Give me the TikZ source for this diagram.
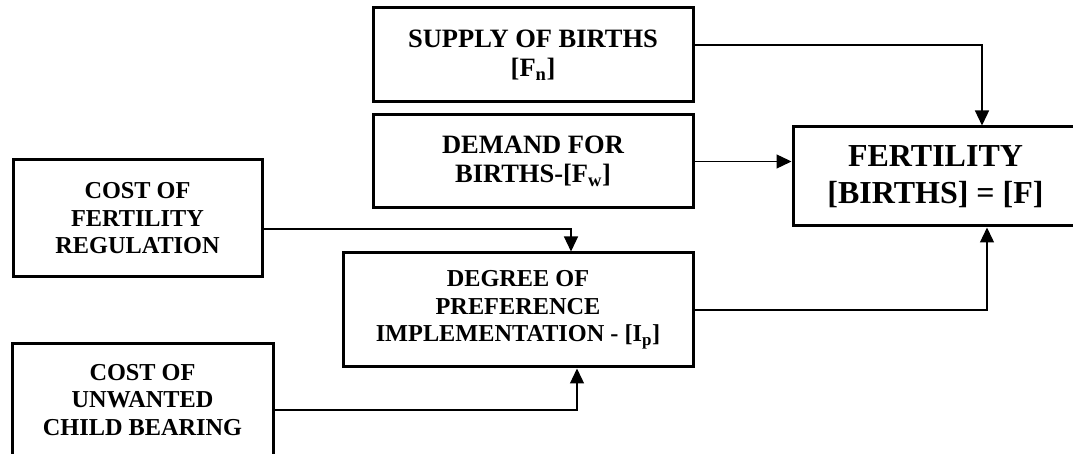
\documentclass[tikz,border=0pt]{standalone}
\usepackage{fontspec}
\setmainfont{Liberation Serif}
\usetikzlibrary{arrows.meta,calc}
\begin{document}
\begin{tikzpicture}[x=1pt,y=1pt,
  box/.style={draw,line width=3pt,rectangle,align=center,inner sep=0pt,
    font=\fontsize{24.3}{27.5}\selectfont\bfseries},
  topbox/.style={box,font=\fontsize{26.5}{29}\selectfont\bfseries},
  bigbox/.style={box,font=\fontsize{32}{37}\selectfont\bfseries},
  conn/.style={line width=1.3pt,-{Triangle[length=15pt,width=14pt]}}]
\useasboundingbox (0,0) rectangle (1073,454);
\node[topbox,minimum width=320,minimum height=94] (supply) at (533,399) {SUPPLY OF BIRTHS\\{}[F\textsubscript{n}]};
\node[topbox,minimum width=320,minimum height=93] (demand) at (533,292.5) {DEMAND FOR\\BIRTHS-[F\textsubscript{w}]};
\node[bigbox,minimum width=285,minimum height=99] (fert) at (935.5,277.5) {FERTILITY\\{}[BIRTHS] = [F]};
\node[box,minimum width=249,minimum height=117] (costreg) at (137.5,235.5) {COST OF\\FERTILITY\\REGULATION};
\node[box,minimum width=350,minimum height=114] (degree) at (518,144) {DEGREE OF\\PREFERENCE\\IMPLEMENTATION - [I\textsubscript{p}]};
\node[box,minimum width=261,minimum height=112] (unwanted) at (142.5,54) {COST OF\\UNWANTED\\CHILD BEARING};
\draw[conn] ([yshift=10pt]supply.east) -| ([xshift=46.5pt]fert.north);
\draw[conn] (demand.east) -- (demand.east -| fert.west);
\draw[conn] ([yshift=-10.5pt]costreg.east) -| ([xshift=53pt]degree.north);
\draw[conn] ([yshift=-10pt]unwanted.east) -| ([xshift=59pt]degree.south);
\draw[conn] (degree.east) -| ([xshift=51.5pt]fert.south);
\end{tikzpicture}
\end{document}
